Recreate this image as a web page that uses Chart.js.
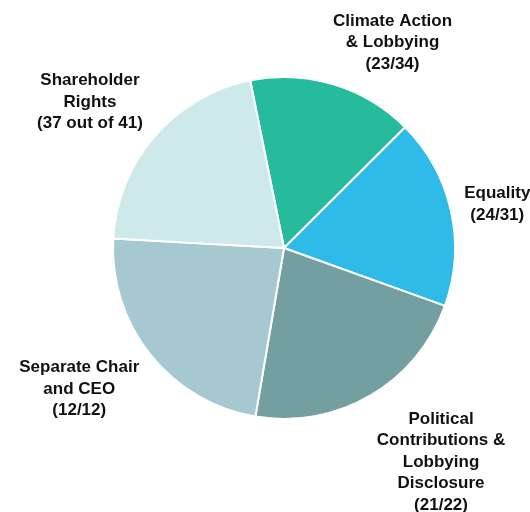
<!DOCTYPE html>
<html>
<head>
<meta charset="utf-8">
<script src="https://cdn.jsdelivr.net/npm/chart.js@4.4.1/dist/chart.umd.min.js"></script>
<style>
    html, body { margin: 0; padding: 0; background: #fff; }
    #wrap { width: 530px; height: 512px; }
</style>
</head>
<body>
<div id="wrap"><canvas id="myChart" width="530" height="512"></canvas></div>
<script>
// label lines for each slice
const labels = [
    ["Climate Action", "& Lobbying", "(23/34)"],
    ["Equality", "(24/31)"],
    ["Political", "Contributions &", "Lobbying", "Disclosure", "(21/22)"],
    ["Separate Chair", "and CEO", "(12/12)"],
    ["Shareholder", "Rights", "(37 out of 41)"]
];
// share of proposals supported, in percent
const supportPct = [67.6, 77.4, 95.5, 100, 90.2];
const colors = ["#27bb9d", "#2fbbe7", "#749fa0", "#a5c8d1", "#cde9eb"];

// small nudge of the label angle (degrees) and gap so it sits like the original
const labelNudge = [11, 1, -6, 4, -4];
const labelGap = [5, 10, 13, 10, 10];

const outsideLabels = {
    id: 'outsideLabels',
    afterDatasetsDraw(chart) {
        const ctx = chart.ctx;
        const meta = chart.getDatasetMeta(0);
        const lineH = 21.5;
        ctx.save();
        ctx.font = "bold 17px 'Liberation Sans', Arial, sans-serif";
        ctx.fillStyle = "#111";
        ctx.textAlign = "center";
        ctx.textBaseline = "middle";
        meta.data.forEach((arc, i) => {
            const lines = chart.data.labels[i];
            const w = Math.max(...lines.map(l => ctx.measureText(l).width));
            const h = lines.length * lineH;
            const mid = (arc.startAngle + arc.endAngle) / 2 + labelNudge[i] * Math.PI / 180;
            const cx = Math.cos(mid), cy = Math.sin(mid);
            const extent = Math.abs(cx) * w / 2 + Math.abs(cy) * h / 2;
            const d = arc.outerRadius + labelGap[i] + extent;
            const x = arc.x + cx * d;
            const y = arc.y + cy * d;
            lines.forEach((l, j) => {
                ctx.fillText(l, x, y - h / 2 + lineH * (j + 0.5));
            });
        });
        ctx.restore();
    }
};

new Chart(document.getElementById('myChart'), {
    type: 'pie',
    data: {
        labels: labels,
        datasets: [{
            data: supportPct,
            backgroundColor: colors,
            borderColor: '#ffffff',
            borderWidth: 2
        }]
    },
    options: {
        responsive: false,
        animation: false,
        rotation: -11.4,
        layout: {
            padding: { left: 112, right: 74, top: 76, bottom: 92 }
        },
        plugins: {
            legend: { display: false },
            tooltip: { enabled: false }
        }
    },
    plugins: [outsideLabels]
});
</script>
</body>
</html>
